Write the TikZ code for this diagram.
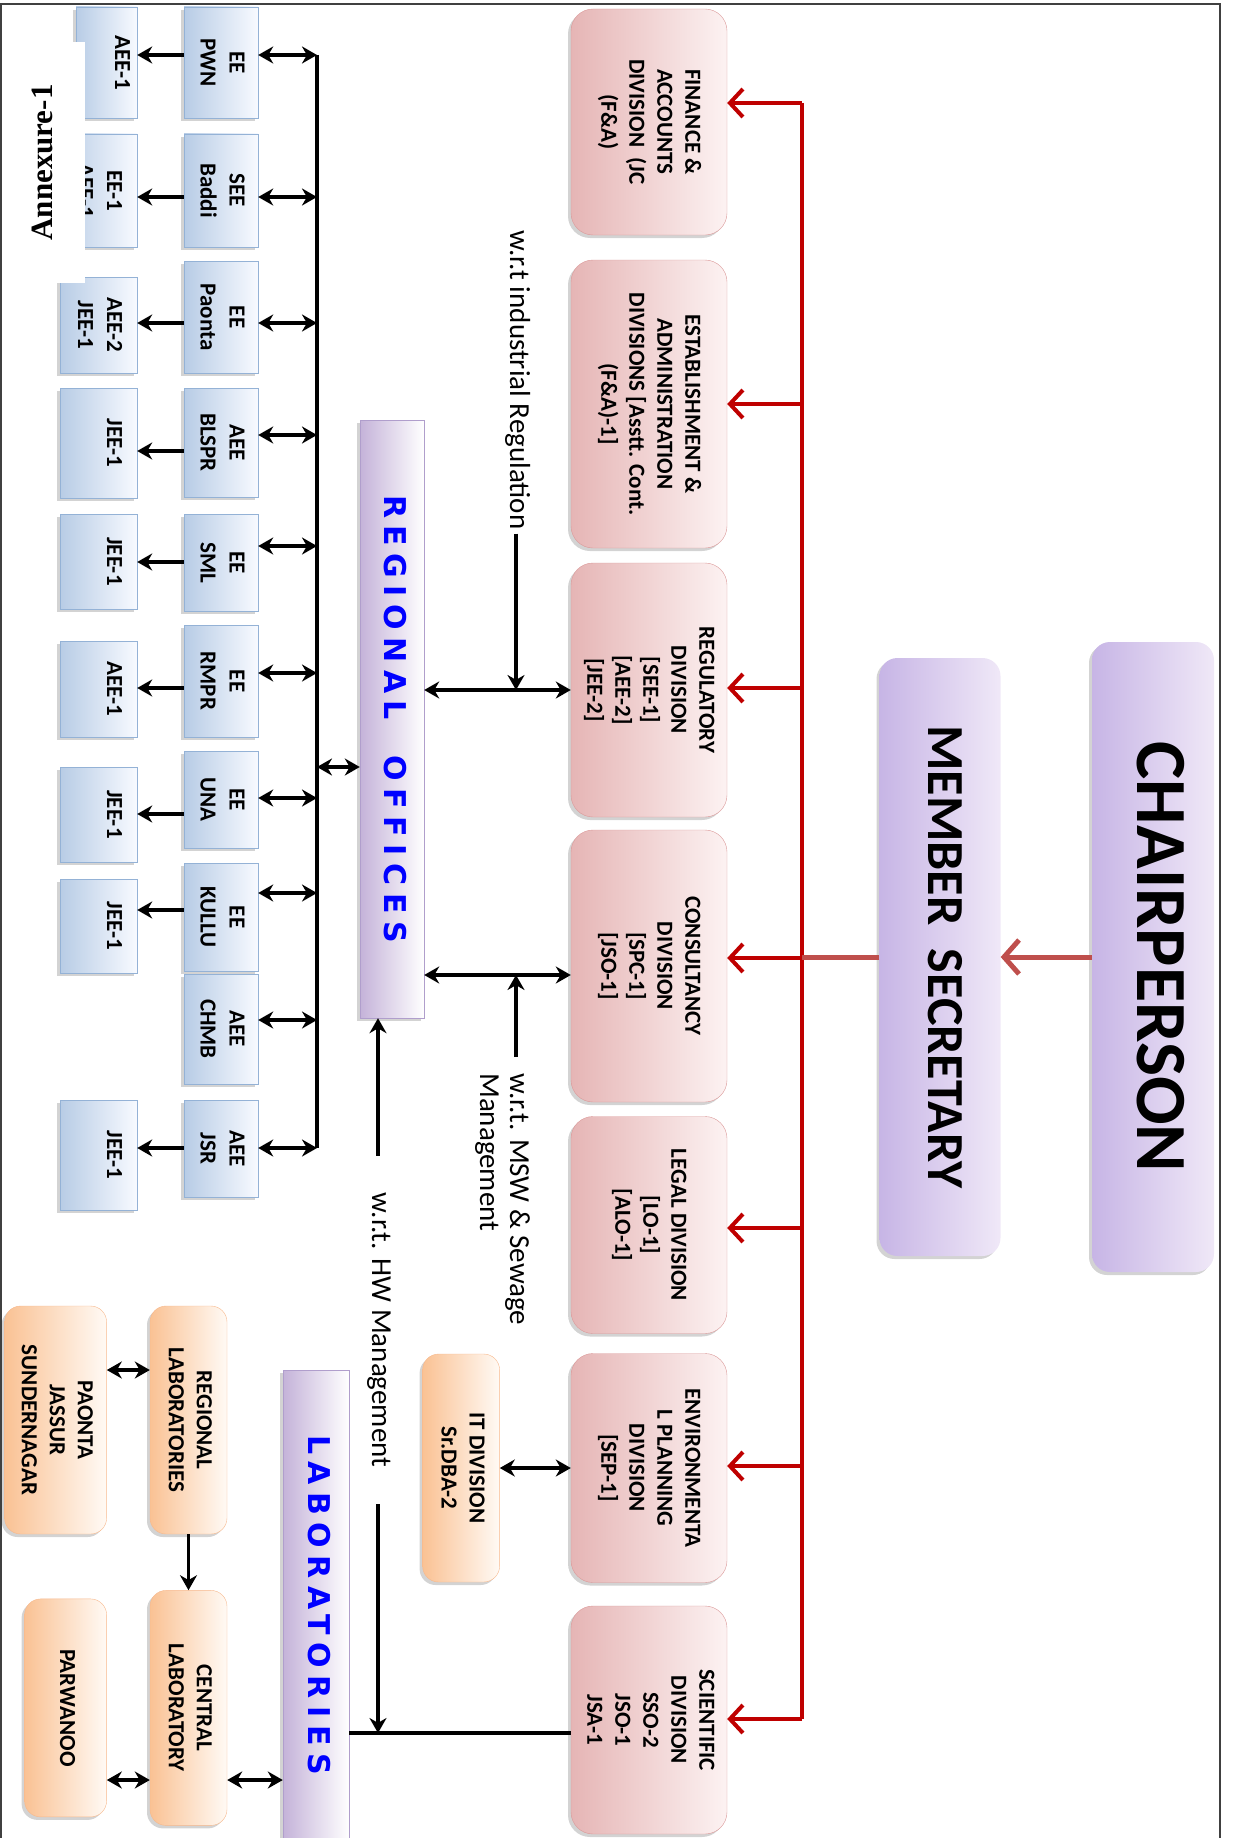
\documentclass[tikz,border=0pt]{standalone}
\usepackage{graphicx}
\usepackage{fontspec}
\setmainfont{Carlito}
\newfontfamily\annexfont{Liberation Serif}
\newfontfamily\barfont[LetterSpace=25]{DejaVu Sans}
\usetikzlibrary{arrows.meta, positioning, calc, shadows}
\definecolor{DeepRed}{rgb}{0.75, 0.0, 0.0}
\definecolor{MutedRed}{rgb}{0.75, 0.31, 0.30}
\definecolor{PinkDark}{rgb}{0.90, 0.71, 0.71}
\definecolor{PinkLight}{rgb}{0.99, 0.95, 0.95}
\definecolor{PinkEdge}{rgb}{0.86, 0.60, 0.60}
\definecolor{SkyDark}{rgb}{0.72, 0.80, 0.90}
\definecolor{SkyLight}{rgb}{0.97, 0.98, 1.0}
\definecolor{SkyEdge}{rgb}{0.58, 0.70, 0.84}
\definecolor{PeachDark}{rgb}{0.98, 0.76, 0.58}
\definecolor{PeachLight}{rgb}{1.0, 0.98, 0.96}
\definecolor{PeachEdge}{rgb}{0.97, 0.72, 0.55}
\definecolor{LilacDark}{rgb}{0.78, 0.71, 0.90}
\definecolor{LilacLight}{rgb}{0.94, 0.91, 0.97}
\definecolor{BarDark}{rgb}{0.77, 0.70, 0.85}
\definecolor{BarEdge}{rgb}{0.69, 0.62, 0.80}
\definecolor{FrameGray}{rgb}{0.25, 0.25, 0.25}
\newcommand{\turned}[2][c]{\rotatebox{-90}{\begin{tabular}{@{}#1@{}}#2\end{tabular}}}

\begin{document}
\begin{tikzpicture}[x=1pt, y=-1pt,
    lifted/.style={drop shadow={shadow xshift=-3pt, shadow yshift=-3pt, opacity=0.35}},
    chief/.style={lifted, rounded corners=18pt, left color=LilacDark, right color=LilacLight,
        inner sep=0pt},
    division/.style={lifted, draw=PinkEdge, rounded corners=22pt, left color=PinkDark,
        right color=PinkLight, minimum width=156pt, inner sep=0pt,
        font=\bfseries\fontsize{23}{28}\selectfont},
    office/.style={lifted, draw=SkyEdge, left color=SkyDark, right color=SkyLight,
        minimum width=74pt, inner sep=0pt, font=\bfseries\fontsize{23}{29}\selectfont},
    unit/.style={office, minimum width=77pt},
    lab/.style={lifted, draw=PeachEdge, rounded corners=16pt, left color=PeachDark,
        right color=PeachLight, minimum width=77pt, inner sep=0pt,
        font=\bfseries\fontsize{23}{28}\selectfont},
    bar/.style={lifted, draw=BarEdge, left color=BarDark, right color=white,
        minimum width=64pt, inner sep=0pt, text=blue,
        font=\barfont\bfseries\fontsize{30}{36}\selectfont},
    note/.style={inner sep=4pt, font=\fontsize{29}{30}\selectfont},
    link/.style={line width=3.6pt, {Stealth[length=15pt,width=17pt]}-{Stealth[length=15pt,width=17pt]}},
    feed/.style={line width=3.6pt, -{Stealth[length=15pt,width=17pt]}},
    order/.style={line width=4pt, DeepRed, -{Straight Barb[length=13pt,width=28pt]}},
    chain/.style={line width=5pt, MutedRed},
]
\useasboundingbox (0,0) rectangle (1237,1838);
\clip (0,0) rectangle (1237,1838);

% ============ top: chairperson and member secretary ============
\node[chief, minimum width=122pt, minimum height=630pt,
      font=\bfseries\fontsize{72}{80}\selectfont] (chair) at (1153,957) {\turned{CHAIRPERSON}};
\node[chief, minimum width=121pt, minimum height=598pt,
      font=\bfseries\fontsize{52}{60}\selectfont] (ms) at (940,957) {\turned{MEMBER\ \ SECRETARY}};
\draw[chain, -{Straight Barb[length=15pt,width=34pt]}] (chair.west) -- (ms.east);

% ============ divisions ============
\node[division, minimum height=226pt] (fa)    at (649,122)  {\turned{FINANCE \&\\ACCOUNTS\\DIVISION\ \ (JC\\(F\&A)}};
\node[division, minimum height=288pt] (est)   at (649,404)  {\turned{ESTABLISHMENT \&\\ADMINISTRATION\\DIVISIONS [Asstt. Cont.\\(F\&A)-1]}};
\node[division, minimum height=254pt] (reg)   at (649,690)  {\turned{REGULATORY\\DIVISION\\{[SEE-1]}\\{[AEE-2]}\\{[JEE-2]}}};
\node[division, minimum height=272pt] (cons)  at (649,966)  {\turned{CONSULTANCY\\DIVISION\\{[SPC-1]}\\{[JSO-1]}}};
\node[division, minimum height=217pt] (legal) at (649,1225) {\turned{LEGAL DIVISION\\{[LO-1]}\\{[ALO-1]}}};
\node[division, minimum height=229pt] (env)   at (649,1468) {\turned{ENVIRONMENTA\\L PLANNING\\DIVISION\\{[SEP-1]}}};
\node[division, minimum height=228pt] (sci)   at (649,1720) {\turned{SCIENTIFIC\\DIVISION\\SSO-2\\JSO-1\\JSA-1}};

% red spine from member secretary
\coordinate (spinetop) at (802,103);
\coordinate (spinebot) at (802,1719);
\draw[DeepRed, line width=4pt] (spinetop) -- (spinebot);
\draw[chain] (ms.west) -- (ms.west -| spinetop);
\foreach \p/\y in {fa/103, est/404, reg/688, cons/958, legal/1228, env/1466, sci/1719}
    \draw[order] (spinetop |- 0,\y) -- (\p.east |- 0,\y);

% ============ regional offices ============
\foreach \p/\y/\h/\txt in {pwn/62.5/111/{EE\\PWN}, baddi/190.5/113/{SEE\\Baddi},
        paonta/317/112/{EE\\Paonta}, blspr/442.5/109/{AEE\\BLSPR}, sml/562.5/97/{EE\\SML},
        rmpr/681/112/{EE\\RMPR}, una/799.5/97/{EE\\UNA}, kullu/917/108/{EE\\KULLU},
        chmb/1029/110/{AEE\\CHMB}, jsr/1148.5/97/{AEE\\JSR}}
    \node[office, minimum height=\h pt] (\p) at (221,\y) {\turned{\txt}};

\foreach \p/\x/\w/\y/\h/\txt in {pwn/106.5/61/62.5/111/{AEE-1\\~},
        baddi/98.5/77/190.5/113/{EE-1\\AEE-1}, paonta/98.5/77/325/96/{AEE-2\\JEE-1},
        blspr/98.5/77/443/110/{JEE-1\\~}, sml/98.5/77/561.5/95/{JEE-1\\~},
        rmpr/98.5/77/689/96/{AEE-1\\~}, una/98.5/77/814.5/95/{JEE-1\\~},
        kullu/98.5/77/926/94/{JEE-1\\~}, jsr/98.5/77/1155/110/{JEE-1\\~}}
    \node[unit, minimum width=\w pt, minimum height=\h pt] (sub-\p) at (\x,\y) {\turned{\txt}};

\coordinate (bustop) at (317,55);
\coordinate (busbot) at (317,1148);
\draw[line width=4.5pt] (bustop) -- (busbot);
\foreach \p/\a/\b in {pwn/55/55, baddi/197/197, paonta/323/323, blspr/435/451, sml/546/562,
        rmpr/673/688, una/798/814, kullu/893/910, jsr/1148/1148}
{
    \draw[link] (\p.east |- 0,\a) -- (bustop |- 0,\a);
    \draw[feed] (\p.west |- 0,\b) -- (sub-\p.east |- 0,\b);
}
\draw[link] (chmb.east |- 0,1020) -- (bustop |- 0,1020);

\node[bar, minimum height=598pt] (ro) at (392,719) {\turned{REGIONAL\ \ OFFICES}};
\draw[link] (bustop |- 0,767) -- (ro.west |- 0,767);
\draw[link] (ro.east |- reg) -- (reg.west);
\draw[link] (ro.east |- 0,975) -- (cons.west |- 0,975);

% w.r.t. notes
\node[note] (ind) at (516,380) {\turned{w.r.t industrial Regulation}};
\draw[feed] (ind.south) -- (ind.south |- reg.west);
\node[note, inner ysep=16pt, anchor=north] (msw) at (501,1057) {\turned[l]{w.r.t. MSW \& Sewage\\Management}};
\draw[feed] (ind.south |- msw.north) -- (ind.south |- 0,975);

% ============ laboratories ============
\node[bar, minimum width=66pt, minimum height=470pt] (lab) at (316,1605) {\turned{LABORATORIES}};
\node[note, inner ysep=37pt] (hw) at (378,1330) {\turned{w.r.t. HW Management}};
\draw[feed] (hw.north) -- (hw.north |- ro.south);
\coordinate (hwjoin) at (378,1733);
\draw[feed] (hw.south) -- (hwjoin);
\draw[line width=3.6pt] (lab.east |- hwjoin) -- (sci.west |- hwjoin);

\node[lab, minimum height=228pt, left=71pt of env] (it) {\turned{IT DIVISION\\Sr.DBA-2}};
\draw[link] (it.east) -- (env.west);

\node[lab, minimum height=228pt] (rlab) at (188.5,1420) {\turned{REGIONAL\\LABORATORIES}};
\node[lab, minimum width=102pt, minimum height=228pt, left=43pt of rlab] (plab) {\turned{PAONTA\\JASSUR\\SUNDERNAGAR}};
\node[lab, minimum height=235pt, below=56pt of rlab] (central) {\turned{CENTRAL\\LABORATORY}};
\node[lab, minimum width=82pt, minimum height=218pt, left=43pt of central] (parwanoo) {\turned{PARWANOO}};
\draw[link] (rlab.west |- 0,1370) -- (plab.east |- 0,1370);
\draw[feed] (rlab) -- (central);
\draw[link] (central.west |- 0,1780) -- (parwanoo.east |- 0,1780);
\draw[link] (central.east |- 0,1780) -- (lab.west |- 0,1780);

% annexure tag over the first units
\node[fill=white, minimum width=85pt, minimum height=241pt, inner sep=0pt,
      font=\annexfont\bfseries\fontsize{31}{36}\selectfont] (annex) at (42.5,162.5) {\rotatebox{90}{Annexure-1}};

% page frame
\draw[FrameGray, line width=2pt] (1,1840) -- (1,4) -- (1220,4) -- (1220,1840);

\end{tikzpicture}
\end{document}
